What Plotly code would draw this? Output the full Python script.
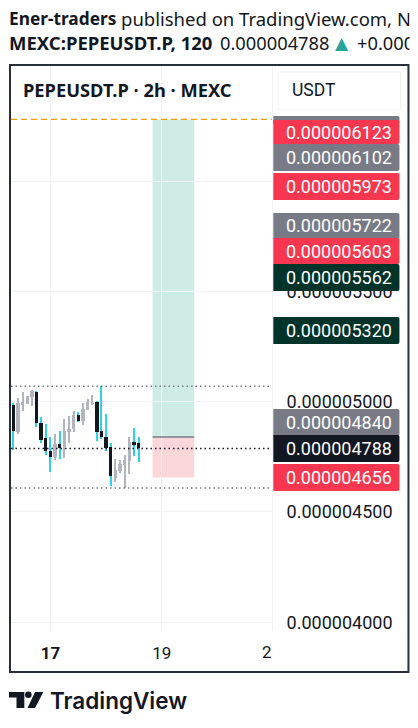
import pandas as pd
import plotly.graph_objects as go

W, H = 418, 728
# plot area in page pixels
LEFT, RIGHT, TOP, BOTTOM = 11, 271.7, 66, 630
NANO = 1e-9

# 2h candles, prices in 1e-9 USDT
first_candle = "2023-11-16 08:00"
opens = [4985, 4863, 4985, 4990, 5021, 5044, 4903, 4835, 4776, 4749, 4808, 4795, 4867, 4876, 4940, 4913, 4962, 4990, 4999, 4867, 4840, 4795, 4654, 4686, 4713, 4731, 4817, 4813]
closes = [4867, 4996, 4999, 5026, 5048, 4903, 4826, 4776, 4749, 4808, 4789, 4867, 4876, 4940, 4913, 4967, 4999, 4994, 4863, 4840, 4790, 4663, 4690, 4718, 4736, 4817, 4808, 4788]
highs = [4996, 5017, 5044, 5026, 5053, 5048, 4931, 4899, 4840, 4854, 4867, 4922, 4935, 4958, 4953, 4994, 5012, 5030, 5003, 5071, 4944, 4813, 4740, 4736, 4758, 4840, 4881, 4840]
lows = [4781, 4854, 4958, 4990, 4980, 4885, 4813, 4758, 4681, 4736, 4740, 4745, 4813, 4863, 4908, 4894, 4962, 4985, 4822, 4831, 4776, 4618, 4636, 4677, 4609, 4672, 4754, 4727]

price_ticks = [4000, 4500, 5000, 5500, 6000]

# position tool
entry, target, stop = 4840, 6280, 4656
pos_start, pos_end = "2023-11-18 20:00", "2023-11-19 14:00"
last_price = 4788
range_high, range_low = 5070, 4609

# side labels (stacked by the app, so they do not sit at their price)
tag_texts = ["0.000006123", "0.000006102", "0.000005973", "0.000005722", "0.000005603", "0.000005562", "0.000005320", "0.000004840", "0.000004788", "0.000004656"]
tag_colors = ["#f7374f", "#787b86", "#f7374f", "#787b86", "#f7374f", "#00332a", "#00332a", "#787b86", "#131722", "#f7374f"]
tag_tops = [120, 144, 173, 213, 238, 264, 317, 409, 435, 464]
tag_bottoms = [144, 171, 200, 239, 264, 291, 344, 436, 462, 491]

df = pd.DataFrame({"open": opens, "close": closes, "high": highs, "low": lows})
df["x"] = pd.date_range(first_candle, periods=len(df), freq="2h")
df[["open", "close", "high", "low"]] *= NANO
ups = df[df.close >= df.open]
downs = df[df.close < df.open]
HOUR = 3600 * 1000
GRID = "#f0f2f5"


# paper coords are relative to the plot area
def px(x):
    return (x - LEFT) / (RIGHT - LEFT)


def py(y):
    return (BOTTOM - y) / (BOTTOM - TOP)


def rounded(x0, y0, x1, y1, r=2):
    # square on the left, rounded on the right, pixel coords
    return (f"M{px(x0)},{py(y0)} L{px(x1 - r)},{py(y0)} Q{px(x1)},{py(y0)} {px(x1)},{py(y0 + r)} "
            f"L{px(x1)},{py(y1 - r)} Q{px(x1)},{py(y1)} {px(x1 - r)},{py(y1)} L{px(x0)},{py(y1)} Z")


def paper_path(path, fill):
    return dict(type="path", xref="paper", yref="paper", path=path, fillcolor=fill, line_width=0, layer="above")


def text(x, y, s, size=18, color="#131722", family="Roboto", **kw):
    # xshift takes back the padding plotly puts around annotation text
    return dict(xref="paper", yref="paper", x=px(x), y=py(y), text=s, showarrow=False, xanchor="left", yanchor="middle",
                xshift=-2, font=dict(size=size, color=color, family=family, **kw))


fig = go.Figure()

for part, wick, body in [(ups, "#b2b5be", "#b2b5be"), (downs, "#2fd3e6", "#131722")]:
    fig.add_trace(go.Bar(x=part.x, y=part.high - part.low, base=part.low, width=0.46 * HOUR,
                         marker_color=wick, marker_line_width=0))
    fig.add_trace(go.Bar(x=part.x, y=(part.close - part.open).abs(), base=part[["open", "close"]].min(axis=1),
                         width=1.45 * HOUR, marker_color=body, marker_line_width=0))

shapes = [
    # long position box
    dict(type="rect", xref="x", yref="y", x0=pos_start, x1=pos_end, y0=entry * NANO, y1=target * NANO,
         fillcolor="#cfebe5", line_width=0, layer="below"),
    dict(type="rect", xref="x", yref="y", x0=pos_start, x1=pos_end, y0=stop * NANO, y1=entry * NANO,
         fillcolor="#fcd7da", line_width=0, layer="below"),
    dict(type="line", xref="x", yref="y", x0=pos_start, x1=pos_end, y0=entry * NANO, y1=entry * NANO,
         line=dict(color="#787b86", width=1.5)),
    # horizontal levels
    dict(type="line", xref="paper", yref="y", x0=0, x1=1, y0=target * NANO, y1=target * NANO,
         line=dict(color="#f29d0b", width=1.2, dash="6px,4px")),
    dict(type="line", xref="paper", yref="y", x0=0, x1=1, y0=last_price * NANO, y1=last_price * NANO,
         line=dict(color="#131722", width=1.5, dash="1.5px,3px")),
    dict(type="line", xref="paper", yref="y", x0=0, x1=1, y0=range_high * NANO, y1=range_high * NANO,
         line=dict(color="#787b86", width=1.5, dash="1.5px,3px")),
    dict(type="line", xref="paper", yref="y", x0=0, x1=1, y0=range_low * NANO, y1=range_low * NANO,
         line=dict(color="#787b86", width=1.5, dash="1.5px,3px")),
]

# price tags, a grey sliver peeks out above the first one
shapes.append(paper_path(rounded(273, 116, 399, 124), "#787b86"))
for top, bottom, color in zip(tag_tops, tag_bottoms, tag_colors):
    shapes.append(paper_path(rounded(273, top, 399, bottom), color))

# USDT box and chart frame
shapes.append(dict(type="rect", xref="paper", yref="paper", x0=px(278), x1=px(400), y0=py(72), y1=py(110),
                   fillcolor="white", line=dict(color=GRID, width=1), layer="above"))
shapes.append(dict(type="rect", xref="paper", yref="paper", x0=px(10), x1=px(408), y0=py(65), y1=py(672),
                   line=dict(color="#2a2e39", width=2), layer="above"))

# logo
logo = "#131722"
shapes.append(paper_path(f"M{px(9)},{py(692)} L{px(24.3)},{py(692)} L{px(24.3)},{py(708)} L{px(16.5)},{py(708)} L{px(16.5)},{py(697.5)} L{px(9)},{py(697.5)} Z", logo))
shapes.append(dict(type="circle", xref="paper", yref="paper", x0=px(25), x1=px(31.6), y0=py(698), y1=py(691.4),
                   fillcolor=logo, line_width=0, layer="above"))
shapes.append(paper_path(f"M{px(35)},{py(692)} L{px(43.3)},{py(692)} L{px(35)},{py(708)} L{px(27.5)},{py(708)} Z", logo))

annotations = [
    text(9, 18, "<b>Ener-traders</b>", size=17.3, family="Noto Sans"),
    text(121, 18, "published on TradingView.com, Nov 17", size=18.5, family="Noto Sans"),
    text(9, 43, "<b>MEXC:PEPEUSDT.P, 120</b>", size=18.5, family="Noto Sans"),
    text(220, 43, "0.000004788", size=18.3, family="Noto Sans"),
    text(335, 43, "▲", size=17, color="#26a69a", family="DejaVu Sans"),
    text(357, 43, "+0.000000", size=18.3, family="Noto Sans"),
    # cuts the two header lines at the frame edge
    dict(xref="paper", yref="paper", x=px(409), y=py(31), text=" ", showarrow=False, xanchor="left", yanchor="middle",
         width=12, height=50, bgcolor="white"),
    text(23, 90, "<b>PEPEUSDT.P · 2h · MEXC</b>", size=18.3, family="Noto Sans"),
    text(292, 90, "USDT", size=17.5),
    text(262, 652, "2", size=17),
    text(50, 700, "TradingView", size=22.5, family="Inter", weight=600),
]
for label, top, bottom in zip(tag_texts, tag_tops, tag_bottoms):
    annotations.append(text(286, (top + bottom) / 2, label, color="white"))

fig.update_layout(
    width=W, height=H,
    margin=dict(l=LEFT, r=W - RIGHT, t=TOP, b=H - BOTTOM),
    paper_bgcolor="white", plot_bgcolor="white",
    showlegend=False, barmode="overlay",
    bargap=0,
    shapes=shapes, annotations=annotations,
    font=dict(family="Roboto", size=18, color="#131722"),
    xaxis=dict(
        type="date",
        range=["2023-11-16 07:00", "2023-11-20 23:30"],
        tickvals=["2023-11-17", "2023-11-19"],
        ticktext=["<b>17</b>", "19"],
        tickangle=0,
        showgrid=True, gridcolor=GRID, gridwidth=1,
        zeroline=False, showline=False, ticks="", ticklabelstandoff=11,
        tickfont=dict(size=17),
    ),
    yaxis=dict(
        side="right",
        range=[3965 * NANO, 6522 * NANO],
        tickvals=[p * NANO for p in price_ticks],
        tickformat=".9f",
        showgrid=True, gridcolor=GRID, gridwidth=1,
        zeroline=False, showline=True, linecolor=GRID, linewidth=1,
        ticks="", ticklabelstandoff=10,
        tickfont=dict(size=18),
    ),
)

fig.write_html("out.html", config=dict(displayModeBar=False), post_script="document.body.style.margin='0'")
